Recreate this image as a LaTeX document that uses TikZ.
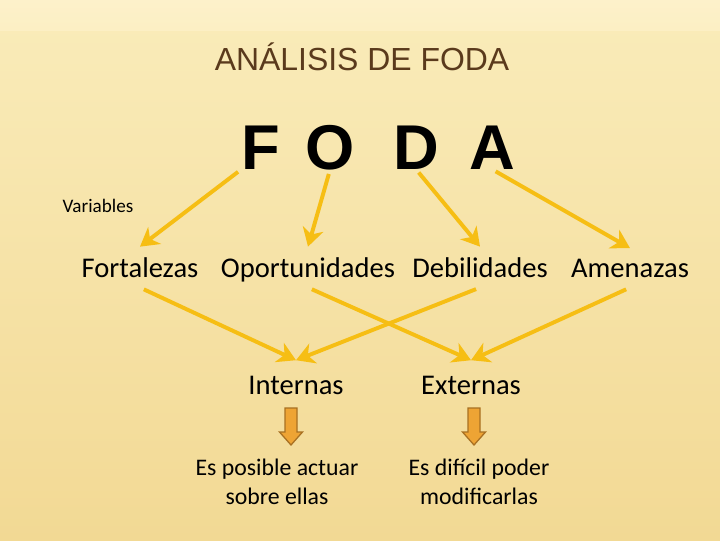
\documentclass[tikz,border=0pt]{standalone}
\usepackage{fontspec}
\setmainfont{Carlito}
\newfontfamily\arialfont{Liberation Sans}
\usepackage{tikz}
\usetikzlibrary{arrows.meta,positioning,calc}
\usepackage{xcolor}

\definecolor{bgtop}{RGB}{253,241,202}
\definecolor{bgmid}{RGB}{250,236,186}
\definecolor{bgbot}{RGB}{242,217,148}
\definecolor{titlebrown}{RGB}{90,58,28}
\definecolor{gold}{RGB}{246,190,20}
\definecolor{blockfill}{RGB}{238,164,52}
\definecolor{blockline}{RGB}{168,112,34}

\tikzset{
  word/.style={font=\fontsize{20.3}{24}\selectfont, inner sep=0pt, outer sep=7.5pt, text depth=0pt},
  letter/.style={font=\arialfont\bfseries\fontsize{45}{50}\selectfont, inner sep=0pt, anchor=base},
  note/.style={font=\fontsize{16.9}{20.5}\selectfont, align=center, anchor=north, inner sep=0pt},
  goldarrow/.style={draw=gold, line width=2.8pt, shorten <=3pt,
    -{Stealth[length=13pt, width=15pt, inset=4pt]}},
  downblock/.style={draw=blockline, fill=blockfill, line width=0.9pt, line join=miter},
}

\begin{document}
\begin{tikzpicture}[x=0.025cm, y=-0.025cm]
  % fondo
  \fill[top color=bgmid, bottom color=bgbot] (0,0) rectangle (720,540);
  \fill[top color=bgtop, bottom color=bgtop!60!bgmid] (0,0) rectangle (720,30);
  \useasboundingbox (0,0) rectangle (720,540);

  \node[font=\arialfont\fontsize{22.7}{26}\selectfont, text=titlebrown, anchor=base] (title) at (362,70) {ANÁLISIS DE FODA};

  \node[letter] (F) at (261,169) {F};
  \node[letter] (O) at (330,169) {O};
  \node[letter] (D) at (416,169) {D};
  \node[letter] (A) at (492,169) {A};

  \node[font=\fontsize{13.6}{16}\selectfont, anchor=base] (var) at (98,212) {Variables};

  \node[word, anchor=base] (fort) at (140,277) {Fortalezas};
  \node[word, anchor=base] (opor) at (308,277) {Oportunidades};
  \node[word, anchor=base] (debi) at (480,277) {Debilidades};
  \node[word, anchor=base] (amen) at (630,277) {Amenazas};

  \draw[goldarrow] (F.south west) -- (fort.north);
  \draw[goldarrow] (O.south) -- (opor.north);
  \draw[goldarrow] (D.south) -- (debi.north);
  \draw[goldarrow] (A.south) -- (amen.north);

  \node[word, anchor=base, outer sep=11pt] (inte) at (296,394) {Internas};
  \node[word, anchor=base, outer sep=11pt] (exte) at (471,394) {Externas};

  \draw[goldarrow] (fort.south) -- (inte.north);
  \draw[goldarrow] (debi.south) -- (inte.north);
  \draw[goldarrow] (opor.south) -- (exte.north);
  \draw[goldarrow] (amen.south) -- (exte.north);

  % flechas de bloque
  \foreach \x in {291,474}
    \draw[downblock] (\x-6,408) -- (\x+6,408) -- (\x+6,432) -- (\x+11.5,432)
      -- (\x,445) -- (\x-11.5,432) -- (\x-6,432) -- cycle;

  \node[note] (inote) at (277,459) {Es posible actuar\\sobre ellas};
  \node[note] (enote) at (479,459) {Es difícil poder\\modificarlas};
\end{tikzpicture}
\end{document}
